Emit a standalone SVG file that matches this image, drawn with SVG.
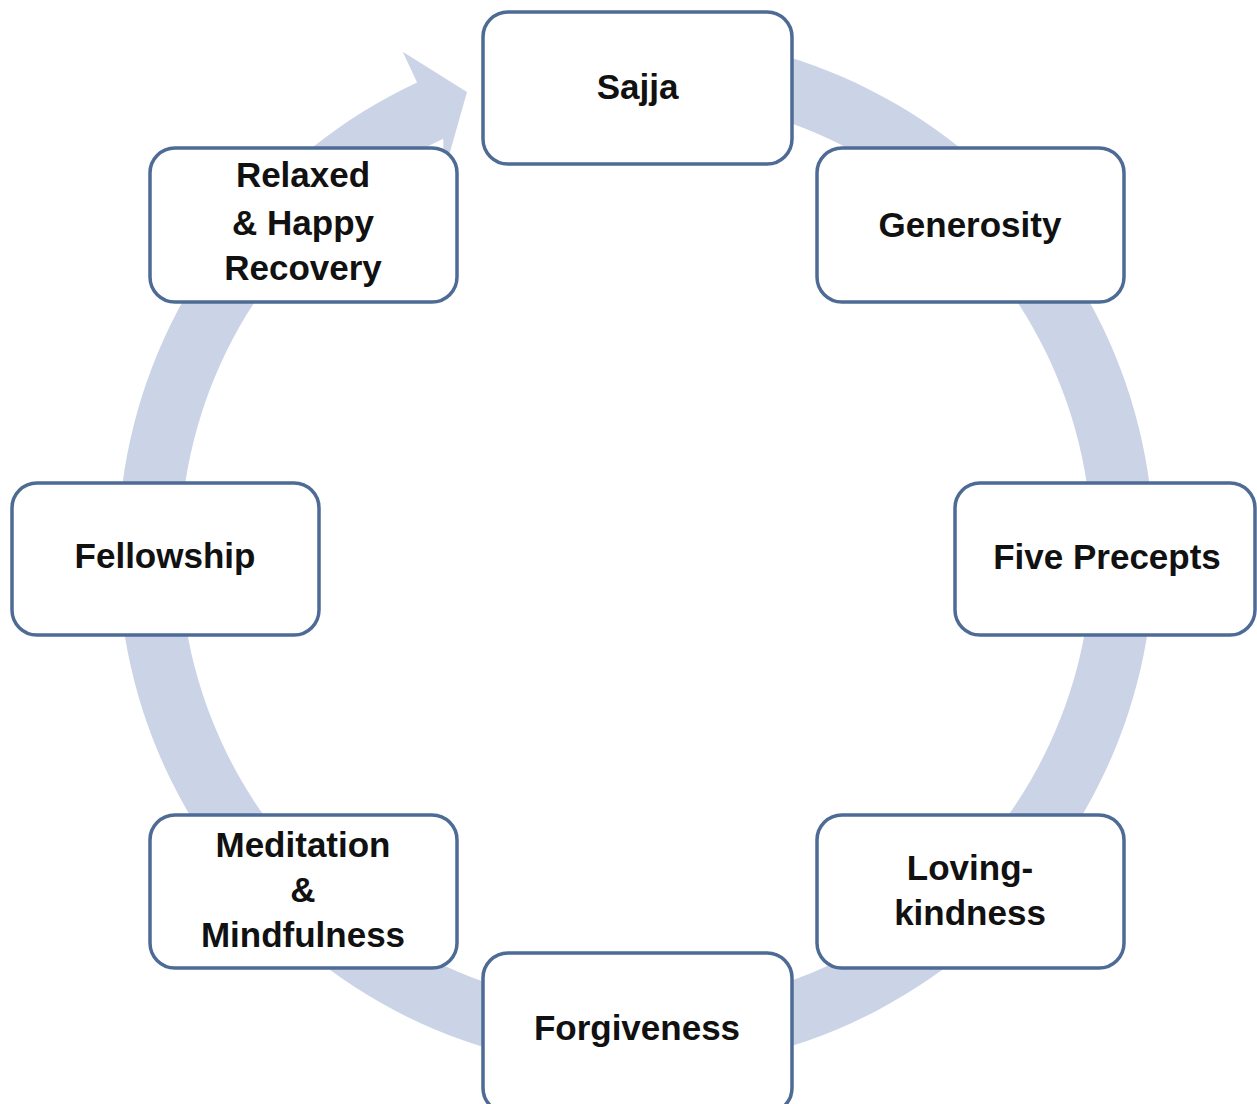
<svg xmlns="http://www.w3.org/2000/svg" width="1257" height="1104" viewBox="0 0 1257 1104">
<style>
.box{fill:#ffffff;stroke:#4d6b94;stroke-width:3.5}
.lbl{font-family:"Liberation Sans",Arial,sans-serif;font-weight:bold;font-size:35px;fill:#111111;text-anchor:middle}
.ring{fill:#cbd4e7;stroke:none}
</style>
<rect width="1257" height="1104" fill="#ffffff"/>
<g id="connectors">
<path class="ring" d="M 725.95 41.87 A 518 518 0 1 1 417.1 82.5 L 402.7 51.7 L 467 92 L 443.5 175 L 443.3 138.7 A 456 456 0 1 0 715.18 102.93 Z"/>
</g>
<g id="sajja">
<rect class="box" x="483" y="12" width="309" height="152" rx="25"/>
<text class="lbl" x="637.5" y="99">Sajja</text>
</g>
<g id="generosity">
<rect class="box" x="817" y="148" width="307" height="154" rx="25"/>
<text class="lbl" x="970" y="237">Generosity</text>
</g>
<g id="five-precepts">
<rect class="box" x="955" y="483" width="300" height="152" rx="25"/>
<text class="lbl" x="1107" y="569">Five Precepts</text>
</g>
<g id="loving-kindness">
<rect class="box" x="817" y="815" width="307" height="153" rx="25"/>
<text class="lbl" x="970" y="880">Loving-</text>
<text class="lbl" x="970" y="925">kindness</text>
</g>
<g id="forgiveness">
<rect class="box" x="483" y="953" width="309" height="160" rx="25"/>
<text class="lbl" x="637" y="1040">Forgiveness</text>
</g>
<g id="meditation">
<rect class="box" x="150" y="815" width="307" height="153" rx="25"/>
<text class="lbl" x="303" y="857">Meditation</text>
<text class="lbl" x="303" y="902">&amp;</text>
<text class="lbl" x="303" y="947">Mindfulness</text>
</g>
<g id="fellowship">
<rect class="box" x="12" y="483" width="307" height="152" rx="25"/>
<text class="lbl" x="165" y="568">Fellowship</text>
</g>
<g id="relaxed">
<rect class="box" x="150" y="148" width="307" height="154" rx="25"/>
<text class="lbl" x="303" y="187">Relaxed</text>
<text class="lbl" x="303" y="235">&amp; Happy</text>
<text class="lbl" x="303" y="280">Recovery</text>
</g>
</svg>
